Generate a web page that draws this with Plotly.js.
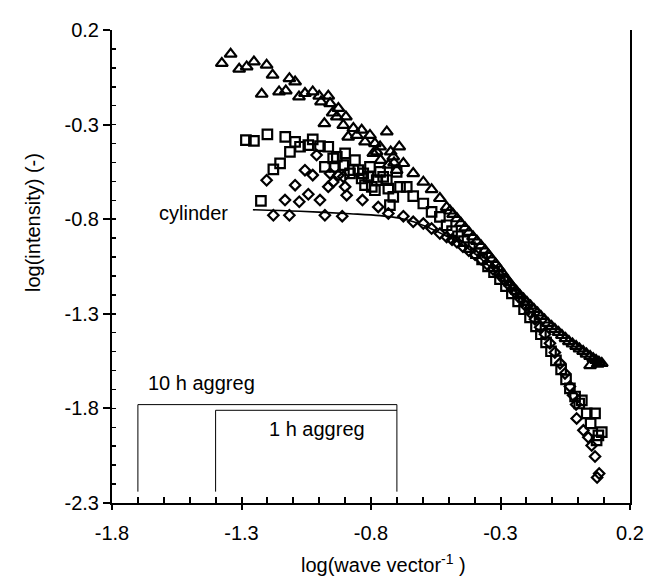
<!DOCTYPE html>
<html>
<head>
<meta charset="utf-8">
<script src="https://cdn.plot.ly/plotly-3.0.1.min.js"></script>
<style>html,body{margin:0;padding:0;background:#fff;}#chart{width:647px;height:578px;}</style>
</head>
<body>
<div id="chart"></div>
<script>
// ---- data ----
const triX = [-1.376,-1.342,-1.309,-1.280,-1.252,-1.222,-1.203,-1.180,-1.155,-1.129,-1.115,-1.093,-1.078,-1.055,-1.025,-1.000,-0.993,-0.980,-0.965,-0.958,-0.948,-0.932,-0.926,-0.907,-0.897,-0.888,-0.868,-0.855,-0.836,-0.823,-0.804,-0.791,-0.785,-0.778,-0.765,-0.763,-0.739,-0.733,-0.724,-0.714,-0.711,-0.701,-0.691,-0.675,-0.637,-0.598,-0.566,-0.534,-0.508,-0.495,-0.483,-0.468,-0.453,-0.437,-0.422,-0.406,-0.391,-0.375,-0.360,-0.347,-0.333,-0.319,-0.306,-0.292,-0.279,-0.265,-0.252,-0.238,-0.225,-0.211,-0.198,-0.184,-0.171,-0.157,-0.144,-0.130,-0.117,-0.103,-0.090,-0.076,-0.063,-0.049,-0.036,-0.022,-0.008,0.005,0.019,0.032,0.046,0.046,0.058,0.069,0.075,0.080,0.091];
const triY = [0.024,0.073,-0.006,0.006,0.032,-0.139,0.015,-0.038,-0.126,-0.121,-0.056,-0.074,-0.153,-0.135,-0.126,-0.149,-0.179,-0.294,-0.149,-0.188,-0.238,-0.259,-0.214,-0.303,-0.259,-0.365,-0.320,-0.356,-0.329,-0.391,-0.356,-0.452,-0.400,-0.444,-0.417,-0.488,-0.338,-0.514,-0.444,-0.470,-0.502,-0.541,-0.417,-0.505,-0.558,-0.603,-0.643,-0.690,-0.737,-0.756,-0.774,-0.797,-0.821,-0.845,-0.869,-0.893,-0.916,-0.940,-0.964,-0.988,-1.012,-1.036,-1.059,-1.086,-1.112,-1.136,-1.160,-1.181,-1.202,-1.221,-1.239,-1.258,-1.276,-1.295,-1.313,-1.332,-1.350,-1.366,-1.382,-1.398,-1.414,-1.430,-1.446,-1.459,-1.472,-1.485,-1.498,-1.512,-1.525,-1.573,-1.536,-1.546,-1.565,-1.555,-1.562];

const sqX = [-1.283,-1.252,-1.225,-1.200,-1.177,-1.151,-1.131,-1.113,-1.093,-1.074,-1.042,-1.025,-0.997,-0.978,-0.965,-0.946,-0.939,-0.932,-0.907,-0.900,-0.881,-0.868,-0.862,-0.849,-0.836,-0.830,-0.823,-0.810,-0.804,-0.797,-0.785,-0.778,-0.765,-0.753,-0.739,-0.733,-0.727,-0.714,-0.701,-0.688,-0.662,-0.637,-0.598,-0.566,-0.534,-0.508,-0.487,-0.464,-0.441,-0.418,-0.395,-0.371,-0.348,-0.325,-0.302,-0.279,-0.256,-0.232,-0.209,-0.186,-0.163,-0.144,-0.124,-0.105,-0.086,-0.066,-0.047,-0.032,-0.012,0.004,0.014,0.033,0.065,0.048,0.091,0.078,0.071];
const sqY = [-0.382,-0.386,-0.703,-0.352,-0.537,-0.505,-0.365,-0.444,-0.391,-0.417,-0.408,-0.378,-0.414,-0.523,-0.417,-0.479,-0.523,-0.470,-0.514,-0.452,-0.558,-0.541,-0.488,-0.541,-0.585,-0.558,-0.620,-0.576,-0.523,-0.629,-0.647,-0.594,-0.550,-0.576,-0.594,-0.638,-0.726,-0.682,-0.550,-0.629,-0.629,-0.678,-0.717,-0.761,-0.788,-0.832,-0.863,-0.890,-0.916,-0.948,-0.980,-1.012,-1.049,-1.080,-1.117,-1.154,-1.192,-1.234,-1.276,-1.319,-1.366,-1.408,-1.451,-1.498,-1.546,-1.594,-1.647,-1.694,-1.737,-1.774,-1.758,-1.826,-1.826,-1.879,-1.925,-1.943,-1.969];

const diaX = [-1.203,-1.177,-1.132,-1.115,-1.093,-1.077,-1.055,-1.042,-1.025,-1.010,-0.997,-0.978,-0.965,-0.958,-0.946,-0.926,-0.911,-0.907,-0.900,-0.894,-0.833,-0.772,-0.733,-0.675,-0.637,-0.598,-0.566,-0.534,-0.508,-0.487,-0.468,-0.445,-0.422,-0.398,-0.375,-0.352,-0.329,-0.306,-0.283,-0.263,-0.244,-0.225,-0.205,-0.186,-0.167,-0.147,-0.128,-0.109,-0.090,-0.070,-0.051,-0.032,-0.020,-0.008,-0.006,0.020,0.039,0.052,0.065,0.081,0.073];
const diaY = [-0.594,-0.779,-0.699,-0.779,-0.620,-0.708,-0.541,-0.668,-0.567,-0.461,-0.699,-0.779,-0.629,-0.558,-0.603,-0.567,-0.784,-0.576,-0.629,-0.673,-0.699,-0.735,-0.770,-0.784,-0.814,-0.823,-0.849,-0.876,-0.894,-0.908,-0.922,-0.946,-0.967,-0.988,-1.012,-1.038,-1.065,-1.091,-1.123,-1.154,-1.186,-1.218,-1.255,-1.292,-1.329,-1.371,-1.408,-1.456,-1.504,-1.562,-1.615,-1.684,-1.731,-1.779,-1.853,-1.916,-1.953,-1.996,-2.054,-2.144,-2.165];

const cylX = [-1.256,-1.074,-0.881,-0.765,-0.688,-0.630,-0.572,-0.508,-0.437,-0.360,-0.283,-0.205];
const cylY = [-0.750,-0.758,-0.771,-0.781,-0.795,-0.816,-0.848,-0.890,-0.943,-1.028,-1.123,-1.244];

// aggregate size ranges (brackets)
const agg10X = [-1.70,-1.70,-0.70,-0.70];
const agg10Y = [-2.24,-1.78,-1.78,-2.24];
const agg1X = [-1.40,-1.40,-0.70];
const agg1Y = [-2.24,-1.81,-1.81];

const xTickVals = [-1.8,-1.3,-0.8,-0.3,0.2];
const xTickText = ['-1.8','-1.3','-0.8','-0.3','0.2'];
const yTickVals = [-2.3,-1.8,-1.3,-0.8,-0.3,0.2];
const yTickText = ['-2.3','-1.8','-1.3','-0.8','-0.3','0.2'];

const FONT = 'Liberation Sans, Arial, sans-serif';

const traces = [
  {x: cylX, y: cylY, mode: 'lines', line: {color: '#000', width: 1.6, shape: 'spline'}, hoverinfo: 'skip'},
  {x: diaX, y: diaY, mode: 'markers', marker: {symbol: 'diamond-open', size: 8, color: '#000', line: {width: 2.2, color: '#000'}}},
  {x: sqX, y: sqY, mode: 'markers', marker: {symbol: 'square-open', size: 9.5, color: '#000', line: {width: 2.2, color: '#000'}}},
  {x: triX, y: triY, mode: 'markers', marker: {symbol: 'triangle-up-open', size: 10.5, color: '#000', line: {width: 2.2, color: '#000'}}},
  {x: agg10X, y: agg10Y, mode: 'lines', line: {color: '#000', width: 1}, xaxis: 'x2', yaxis: 'y2'},
  {x: agg1X, y: agg1Y, mode: 'lines', line: {color: '#000', width: 1}, xaxis: 'x2', yaxis: 'y2'}
];

const layout = {
  width: 647, height: 578,
  margin: {l: 112, r: 17, t: 30, b: 75},
  paper_bgcolor: '#fff', plot_bgcolor: '#fff',
  showlegend: false,
  font: {family: FONT, size: 20, color: '#000'},
  xaxis: {
    range: [-1.8, 0.2], tickmode: 'array', tickvals: xTickVals, ticktext: xTickText,
    ticks: 'outside', ticklen: 5, tickwidth: 2, tickcolor: '#000', ticklabelstandoff: 6,
    showline: true, linewidth: 2, linecolor: '#000', showgrid: false, zeroline: false,
    tickfont: {family: FONT, size: 20, color: '#000'}
  },
  yaxis: {
    range: [-2.3, 0.2], tickmode: 'array', tickvals: yTickVals, ticktext: yTickText,
    ticks: 'outside', ticklen: 7, tickwidth: 2, tickcolor: '#000',
    showline: true, mirror: true, linewidth: 2, linecolor: '#000', showgrid: false, zeroline: false,
    tickfont: {family: FONT, size: 20, color: '#000'}
  },
  xaxis2: {
    overlaying: 'x', anchor: 'y2', side: 'bottom', range: [-1.8, 0.2], tickmode: 'linear', tick0: -1.8, dtick: 0.1,
    ticks: 'inside', ticklen: 6, tickwidth: 2, tickcolor: '#000', showticklabels: false,
    showline: false, showgrid: false, zeroline: false
  },
  yaxis2: {
    overlaying: 'y', anchor: 'x2', side: 'left', range: [-2.3, 0.2], tickmode: 'linear', tick0: -2.3, dtick: 0.1,
    ticks: 'inside', ticklen: 4, tickwidth: 1.5, tickcolor: '#000', showticklabels: false,
    showline: false, showgrid: false, zeroline: false
  },
  annotations: [
    {text: 'cylinder', x: -1.487, y: -0.768, xref: 'x', yref: 'y', showarrow: false, font: {family: FONT, size: 20, color: '#000'}},
    {text: '10 h aggreg', x: -1.456, y: -1.668, xref: 'x', yref: 'y', showarrow: false, font: {family: FONT, size: 20, color: '#000'}},
    {text: '1 h aggreg', x: -1.007, y: -1.907, xref: 'x', yref: 'y', showarrow: false, font: {family: FONT, size: 20, color: '#000'}},
    {text: 'log(wave vector<sup>-1</sup> )', x: 0.525, y: -0.128, xref: 'paper', yref: 'paper', xanchor: 'center', yanchor: 'middle', showarrow: false, font: {family: FONT, size: 20, color: '#000'}},
    {text: 'log(intensity) (-)', x: -0.1525, y: 0.592, xref: 'paper', yref: 'paper', xanchor: 'center', yanchor: 'middle', textangle: -90, showarrow: false, font: {family: FONT, size: 20, color: '#000'}}
  ]
};

Plotly.newPlot('chart', traces, layout, {displayModeBar: false, staticPlot: true});
</script>
</body>
</html>
